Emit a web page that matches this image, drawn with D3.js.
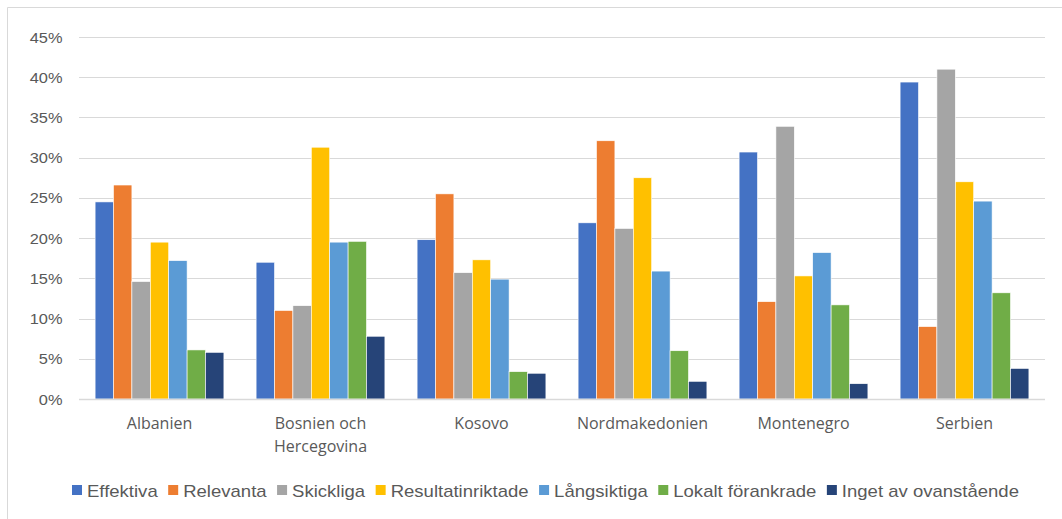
<!DOCTYPE html>
<html>
<head>
<meta charset="utf-8">
<script src="https://cdn.jsdelivr.net/npm/d3@7"></script>
<style>
  body { margin: 0; background: #fff; }
  svg { display: block; }
  .grid line { stroke: #d9d9d9; stroke-width: 1; }
  .yAxis text { font-family: "Liberation Sans", Arial, sans-serif; font-size: 14.5px; fill: #595959; }
  .xAxis text { font-family: "Open Sans", sans-serif; font-size: 16px; fill: #595959; }
  .legend text { font-family: "Liberation Sans", Arial, sans-serif; font-size: 16.4px; fill: #595959; }
</style>
</head>
<body>
<div id="chart"></div>
<script>
var categories = ["Albanien", "Bosnien och Hercegovina", "Kosovo", "Nordmakedonien", "Montenegro", "Serbien"];
var seriesNames = ["Effektiva", "Relevanta", "Skickliga", "Resultatinriktade", "Långsiktiga", "Lokalt förankrade", "Inget av ovanstående"];
var effektiva   = [24.5, 17.0, 19.8, 21.9, 30.7, 39.4];
var relevanta   = [26.6, 11.0, 25.5, 32.1, 12.1,  9.0];
var skickliga   = [14.6, 11.6, 15.7, 21.2, 33.9, 41.0];
var resultat    = [19.5, 31.3, 17.3, 27.5, 15.3, 27.0];
var langsiktiga = [17.2, 19.5, 14.9, 15.9, 18.2, 24.6];
var lokalt      = [ 6.1, 19.6,  3.4,  6.0, 11.7, 13.2];
var inget       = [ 5.8,  7.8,  3.2,  2.2,  1.9,  3.8];
var yTicks = [0, 5, 10, 15, 20, 25, 30, 35, 40, 45];
var colors = ["#4472C4", "#ED7D31", "#A5A5A5", "#FFC000", "#5B9BD5", "#70AD47", "#264478"];

(function () {
  'use strict'

  var seriesValues = [effektiva, relevanta, skickliga, resultat, langsiktiga, lokalt, inget];
  var stretch = 1.13; // text in the picture is a bit wider than tall

  var W = 1062, H = 519;
  var svg = d3.select("#chart").append("svg")
      .attr("width", W)
      .attr("height", H);

  // outer frame (only top and left edges are visible)
  svg.append("path")
      .attr("d", "M7.5," + H + "V7.5H" + W)
      .attr("fill", "none")
      .attr("stroke", "#d9d9d9")
      .attr("stroke-width", 1);

  var x0 = d3.scaleBand().domain(categories).range([79, 1045]).paddingInner(0.2).paddingOuter(0.1);
  var x1 = d3.scaleBand().domain(seriesNames).range([0, x0.bandwidth()]);
  var y = d3.scaleLinear().domain([0, 45]).range([399, 37]);

  // gridlines
  svg.append("g")
      .attr("class", "grid")
      .selectAll("line")
      .data(yTicks)
      .enter().append("line")
      .attr("x1", 79)
      .attr("x2", 1045)
      .attr("y1", function(d) { return Math.round(y(d)) + 0.5; })
      .attr("y2", function(d) { return Math.round(y(d)) + 0.5; });

  // bars
  var rows = categories.map(function(c, i) {
    return { cat: c, vals: seriesNames.map(function(s, j) { return { name: s, v: seriesValues[j][i], c: colors[j] }; }) };
  });

  var groups = svg.append("g").selectAll("g")
      .data(rows)
      .enter().append("g")
      .attr("transform", function(d) { return "translate(" + x0(d.cat) + ",0)"; });

  groups.selectAll("rect")
      .data(function(d) { return d.vals; })
      .enter().append("rect")
      .attr("x", function(d) { return x1(d.name); })
      .attr("width", x1.bandwidth())
      .attr("y", function(d) { return y(d.v); })
      .attr("height", function(d) { return y(0) - y(d.v); })
      .attr("fill", function(d) { return d.c; })
      .attr("stroke", "#fff")
      .attr("stroke-width", 0.6);

  // baseline redraw over bars
  svg.append("line")
      .attr("x1", 79).attr("x2", 1045)
      .attr("y1", Math.round(y(0)) + 0.5).attr("y2", Math.round(y(0)) + 0.5)
      .attr("stroke", "#d9d9d9").attr("stroke-width", 1.5);

  // y axis
  var yAxis = svg.append("g")
      .attr("class", "yAxis")
      .attr("transform", "translate(79,0)")
      .call(d3.axisLeft(y).tickValues(yTicks).tickSize(0).tickPadding(0).tickFormat(function(d) { return d + "%"; }));
  yAxis.select(".domain").remove();
  yAxis.selectAll("text")
      .attr("x", -16.5 / stretch)
      .attr("dy", "0.35em")
      .attr("transform", "scale(" + stretch + ",1)");

  // x axis
  var xAxis = svg.append("g")
      .attr("class", "xAxis")
      .attr("transform", "translate(0," + y(0) + ")")
      .call(d3.axisBottom(x0).tickSize(0).tickPadding(0));
  xAxis.select(".domain").remove();
  xAxis.selectAll("text").each(function(d) {
    var t = d3.select(this);
    var words = d.split(" ");
    var lines = [];
    var line = [];
    t.text(null).attr("y", 0).attr("dy", null);
    var probe = t.append("tspan");
    words.forEach(function(w) {
      line.push(w);
      probe.text(line.join(" "));
      if (probe.node().getComputedTextLength() > 130 && line.length > 1) {
        line.pop();
        lines.push(line.join(" "));
        line = [w];
      }
    });
    lines.push(line.join(" "));
    probe.remove();
    lines.forEach(function(l, i) {
      t.append("tspan").attr("x", 0).attr("y", 30 + i * 22.5).text(l);
    });
  });

  // legend
  var legend = svg.append("g").attr("class", "legend");
  var lx = 72;
  seriesNames.forEach(function(s, i) {
    legend.append("rect")
        .attr("x", lx).attr("y", 485)
        .attr("width", 10).attr("height", 10)
        .attr("fill", colors[i]);
    var txt = legend.append("text")
        .attr("x", 0).attr("y", 0)
        .attr("transform", "translate(" + (lx + 15) + ",497) scale(" + stretch + ",1)")
        .text(s);
    lx += 15 + txt.node().getComputedTextLength() * stretch + 10.5;
  });
})()
</script>
</body>
</html>
